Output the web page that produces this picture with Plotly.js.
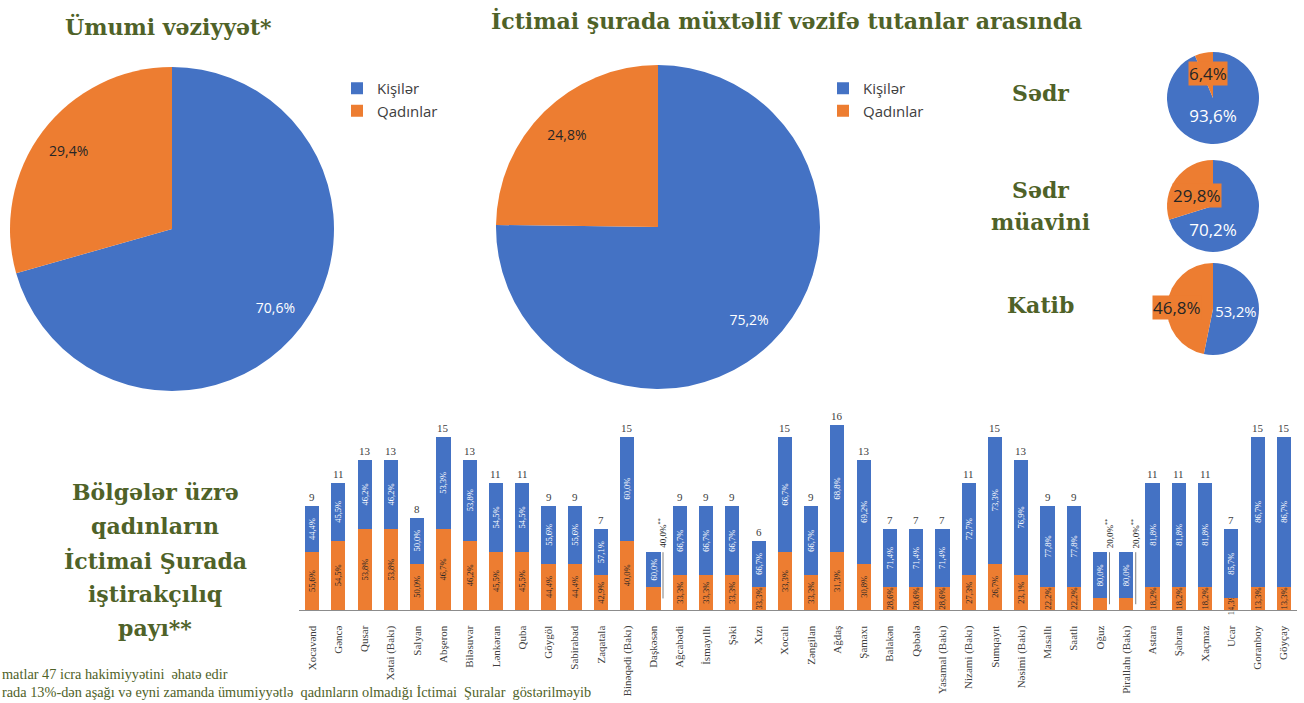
<!DOCTYPE html>
<html>
<head>
<meta charset="utf-8">
<script src="https://cdn.plot.ly/plotly-3.0.1.min.js"></script>
<style>html,body{margin:0;padding:0;background:#fff;}#chart{width:1304px;height:703px;}</style>
</head>
<body>
<div id="chart"></div>
<script>
// ---------- DATA ----------
const pieLabels = ['Kişilər', 'Qadınlar'];
const overallValues = [70.6, 29.4];
const councilValues = [75.2, 24.8];
const roleNames = ['Sədr', 'Sədr<br>müavini', 'Katib'];
const chairValues = [93.6, 6.4];
const deputyValues = [70.2, 29.8];
const secretaryValues = [53.2, 46.8];

const regions = ['Xocavənd','Gəncə','Qusar','Xətai (Bakı)','Salyan','Abşeron','Biləsuvar','Lənkəran','Quba','Göygöl',
  'Sabirabad','Zaqatala','Binəqədi (Bakı)','Daşkəsən','Ağcabədi','İsmayıllı','Şəki','Xızı','Xocalı','Zəngilan',
  'Ağdaş','Şamaxı','Balakən','Qəbələ','Yasamal (Bakı)','Nizami (Bakı)','Sumqayıt','Nəsimi (Bakı)','Masallı','Saatlı',
  'Oğuz','Pirallahı (Bakı)','Astara','Şabran','Xaçmaz','Ucar','Goranboy','Göyçay'];
const totals = [9,11,13,13,8,15,13,11,11,9, 9,7,15,5,9,9,9,6,15,9, 16,13,7,7,7,11,15,13,9,9, 5,5,11,11,11,7,15,15];
const womenPct = [55.6,54.5,53.8,53.8,50.0,46.7,46.2,45.5,45.5,44.4, 44.4,42.9,40.0,40.0,33.3,33.3,33.3,33.3,33.3,33.3,
  31.3,30.8,28.6,28.6,28.6,27.3,26.7,23.1,22.2,22.2, 20.0,20.0,18.2,18.2,18.2,14.3,13.3,13.3];
const menPct = [44.4,45.5,46.2,46.2,50.0,53.3,53.8,54.5,54.5,55.6, 55.6,57.1,60.0,60.0,66.7,66.7,66.7,66.7,66.7,66.7,
  68.8,69.2,71.4,71.4,71.4,72.7,73.3,76.9,77.8,77.8, 80.0,80.0,81.8,81.8,81.8,85.7,86.7,86.7];
const calloutRegions = ['Daşkəsən','Oğuz','Pirallahı (Bakı)'];

const titleMain = 'Ümumi vəziyyət*';
const titleRoles = 'İctimai şurada müxtəlif vəzifə tutanlar arasında';
const titleRegions = 'Bölgələr üzrə<br>qadınların<br>İctimai Şurada<br>iştirakçılıq<br>payı**';
const footnote1 = 'matlar 47 icra hakimiyyətini  əhatə edir';
const footnote2 = 'rada 13%-dən aşağı və eyni zamanda ümumiyyətlə  qadınların olmadığı İctimai  Şuralar  göstərilməyib';

// ---------- STYLE ----------
const W = 1304, H = 703;
const BLUE = '#4472C4', ORANGE = '#ED7D31', GREEN = '#4F6228', DARK = '#262626';
const SANS = 'Open Sans, Liberation Sans, sans-serif';
const SERIF = 'Liberation Serif, Times New Roman, serif';
const HEAD = 'DejaVu Serif, serif';
const px = x => x / W;
const py = y => 1 - y / H;
const fmt = v => v.toFixed(1).replace('.', ',') + '%';
const ZW = '\u200b';

function domainOf(box) {
  return {x: [px(box[0]), px(box[1])], y: [py(box[3]), py(box[2])]};
}
function pie(values, labels, box, legend, showlegend, texts, fontSize) {
  return {
    type: 'pie', labels: labels, values: values, sort: false, direction: 'clockwise', rotation: 0,
    marker: {colors: [BLUE, ORANGE], line: {color: '#fff', width: 0}},
    domain: domainOf(box),
    text: texts, textinfo: texts ? 'text' : 'none', textposition: 'inside', insidetextorientation: 'horizontal',
    textfont: {family: SANS, size: fontSize || 14, color: ['#ffffff', DARK]},
    showlegend: showlegend, legend: legend, hoverinfo: 'skip'
  };
}
// text-only ring overlay so that labels sit towards the rim, like the reference
function pieText(values, box, hole, texts, size) {
  return {
    type: 'pie', labels: pieLabels.map(l => l + ZW + ZW), values: values, sort: false, direction: 'clockwise', rotation: 0,
    hole: hole, marker: {colors: ['rgba(0,0,0,0)', 'rgba(0,0,0,0)'], line: {width: 0}},
    domain: domainOf(box), text: texts || values.map(fmt), textinfo: 'text', textposition: 'inside',
    insidetextorientation: 'horizontal', textfont: {family: SANS, size: size || 14, color: ['#ffffff', DARK]},
    showlegend: false, hoverinfo: 'skip'
  };
}

const box1 = [10, 334, 67, 391], box2 = [496, 820, 65, 389];
const boxS = [1167, 1259, 52, 144], boxD = [1167, 1259, 160, 252], boxK = [1167, 1259, 263, 355];
const traces = [
  pie(overallValues, pieLabels, box1, 'legend', true, null),
  pie(councilValues, pieLabels.map(l => l + ZW), box2, 'legend2', true, null),
  pieText(overallValues, box1, 0.6),
  pieText(councilValues, box2, 0.6),
  pie(chairValues, pieLabels, boxS, 'legend', false, [fmt(chairValues[0]), ''], 17),
  pie(deputyValues, pieLabels, boxD, 'legend', false, null),
  pieText(deputyValues, boxD, 0.05, [fmt(deputyValues[0]), ''], 17),
  pie(secretaryValues, pieLabels, boxK, 'legend', false, [fmt(secretaryValues[0]), ''], 17)
];

const womenCount = totals.map((t, i) => t * womenPct[i] / 100);
const menCount = totals.map((t, i) => t * menPct[i] / 100);
const isCallout = regions.map(r => calloutRegions.includes(r));

traces.push({
  type: 'bar', x: regions, y: womenCount, name: 'Qadınlar', showlegend: false,
  marker: {color: ORANGE}, text: womenPct.map((v, i) => isCallout[i] ? '' : fmt(v)),
  textposition: 'inside', insidetextanchor: 'middle', textangle: -90, constraintext: 'none',
  textfont: {family: SERIF, size: 8.5, color: DARK}, xaxis: 'x', yaxis: 'y', cliponaxis: false, hoverinfo: 'skip'
});
traces.push({
  type: 'bar', x: regions, y: menCount, name: 'Kişilər', showlegend: false,
  marker: {color: BLUE}, text: menPct.map(fmt),
  textposition: 'inside', insidetextanchor: 'middle', textangle: -90, constraintext: 'none',
  textfont: {family: SERIF, size: 8.5, color: '#ffffff'}, xaxis: 'x', yaxis: 'y', cliponaxis: false, hoverinfo: 'skip'
});

function note(text, x, y, font, extra) {
  return Object.assign({text: text, x: px(x), y: py(y), xref: 'paper', yref: 'paper', xanchor: 'center',
    yanchor: 'middle', showarrow: false, font: font}, extra || {});
}
const headFont = {family: HEAD, size: 22, color: GREEN};
const annotations = [
  note('<b>' + titleMain + '</b>', 168, 27, headFont),
  note('<b>' + titleRoles + '</b>', 786, 20, headFont),
  note('<b>' + roleNames[2] + '</b>', 1040, 305, headFont),
  note('<b>' + roleNames[0] + '</b>', 1040, 93, headFont)
];
roleNames[1].split('<br>').forEach((line, k) => annotations.push(note('<b>' + line + '</b>', 1040, 190 + k * 32, headFont)));
titleRegions.split('<br>').forEach((line, k) => annotations.push(note('<b>' + line + '</b>', 155, 492 + k * 34, headFont)));
const footFont = {family: SERIF, size: 14.3, color: GREEN};
annotations.push(note(footnote1, 0, 674, footFont, {x: 0, xanchor: 'left'}));
annotations.push(note(footnote2, 0, 692, footFont, {x: 0, xanchor: 'left'}));
// orange callout labels on the small pies
const callFont = {family: SANS, size: 17, color: DARK};
annotations.push(note(fmt(chairValues[1]), 1208, 73, callFont, {bgcolor: ORANGE, borderpad: 0}));
annotations.push(note(fmt(deputyValues[1]), 1197, 195, callFont, {bgcolor: ORANGE, borderpad: 0}));
annotations.push(note(fmt(secretaryValues[1]), 1177, 307, callFont, {bgcolor: ORANGE, borderpad: 0}));

const shapes = [];
regions.forEach((r, i) => {
  if (isCallout[i]) {
    annotations.push({text: fmt(womenPct[i]) + '<sup>**</sup>', x: r, y: totals[i], xref: 'x', yref: 'y',
      xshift: 9, yshift: 2, xanchor: 'center', yanchor: 'bottom', textangle: -90, showarrow: false,
      font: {family: SERIF, size: 9, color: DARK}});
    shapes.push({type: 'line', xref: 'x', yref: 'y', x0: i + 0.36, x1: i + 0.36, y0: womenCount[i] / 2, y1: totals[i],
      line: {color: '#7f7f7f', width: 1}});
  } else {
    annotations.push({text: String(totals[i]), x: r, y: totals[i], xref: 'x', yref: 'y', xanchor: 'center', yanchor: 'bottom',
      yshift: 1, showarrow: false, font: {family: SERIF, size: 11, color: '#404040'}});
  }
});

const layout = {
  width: W, height: H, margin: {l: 0, r: 0, t: 0, b: 0}, paper_bgcolor: '#fff', plot_bgcolor: 'rgba(0,0,0,0)',
  separators: ', ', barmode: 'stack', bargap: 0.46,
  showlegend: true,
  legend: {x: px(337), y: py(72), xanchor: 'left', yanchor: 'top', bgcolor: 'rgba(0,0,0,0)',
    font: {family: SANS, size: 15, color: '#404040'}, traceorder: 'normal'},
  legend2: {x: px(823), y: py(72), xanchor: 'left', yanchor: 'top', bgcolor: 'rgba(0,0,0,0)',
    font: {family: SANS, size: 15, color: '#404040'}, traceorder: 'normal'},
  xaxis: {domain: [px(299), px(1297)], type: 'category', tickangle: -90, showgrid: false, zeroline: false,
    showline: true, linecolor: '#8c8c8c', linewidth: 1.3, ticks: '', ticklabelstandoff: 10,
    tickfont: {family: SERIF, size: 11, color: '#404040'}, fixedrange: true},
  yaxis: {domain: [py(610), py(400)], range: [0, 210 / 11.56], visible: false, fixedrange: true},
  annotations: annotations, shapes: shapes
};

Plotly.newPlot('chart', traces, layout, {staticPlot: true, displayModeBar: false});
</script>
</body>
</html>
